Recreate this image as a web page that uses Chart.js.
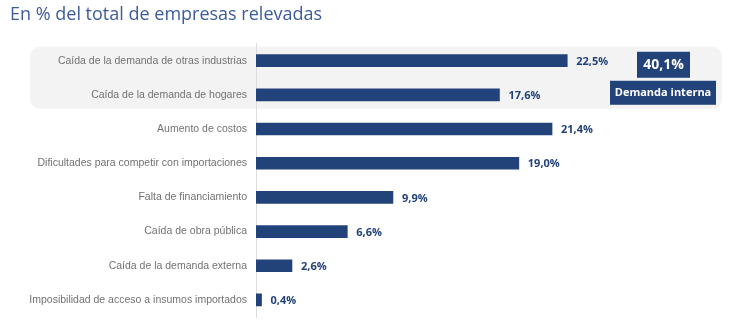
<!DOCTYPE html>
<html>
<head>
<meta charset="utf-8">
<script src="https://cdn.jsdelivr.net/npm/chart.js@4.4.0/dist/chart.umd.min.js"></script>
<style>
  html, body { margin: 0; padding: 0; background: #fff; }
  .chart-container { position: relative; width: 730px; height: 327px; }
</style>
</head>
<body>
<div class="chart-container">
  <canvas id="chart"></canvas>
</div>
<script>
const categories = [
  "Caída de la demanda de otras industrias",
  "Caída de la demanda de hogares",
  "Aumento de costos",
  "Dificultades para competir con importaciones",
  "Falta de financiamiento",
  "Caída de obra pública",
  "Caída de la demanda externa",
  "Imposibilidad de acceso a insumos importados"
];
const shares = [22.5, 17.6, 21.4, 19.0, 9.9, 6.6, 2.6, 0.4];
const groupTotal = "40,1%";
const groupLabel = "Demanda interna";

const navy = "#22427a";
const fmt = (v) => v.toFixed(1).replace(".", ",") + "%";

// grey rounded band behind the first two categories
const bandPlugin = {
  id: "band",
  beforeDraw(chart) {
    const { ctx, scales: { y } } = chart;
    const top = y.getPixelForValue(0) - 14;
    const bottom = y.getPixelForValue(1) + 14;
    ctx.save();
    ctx.fillStyle = "#f3f3f3";
    ctx.beginPath();
    ctx.roundRect(30, top, 692, bottom - top, 10);
    ctx.fill();
    ctx.restore();
  }
};

// value labels + "Demanda interna" boxes
const labelsPlugin = {
  id: "labels",
  afterDatasetsDraw(chart) {
    const { ctx, scales: { x, y } } = chart;
    ctx.save();
    ctx.font = "bold 11px 'Open Sans', sans-serif";
    ctx.fillStyle = navy;
    ctx.textBaseline = "middle";
    ctx.textAlign = "left";
    shares.forEach((v, i) => {
      ctx.fillText(fmt(v), x.getPixelForValue(v) + 9, y.getPixelForValue(i) + 1);
    });

    const mid = (y.getPixelForValue(0) + y.getPixelForValue(1)) / 2;
    ctx.textAlign = "center";
    ctx.fillStyle = navy;
    ctx.fillRect(637, mid - 26, 53, 26);
    ctx.fillRect(610, mid + 3, 106, 24);
    ctx.fillStyle = "#fff";
    ctx.font = "bold 14px 'Open Sans', sans-serif";
    ctx.fillText(groupTotal, 663.5, mid - 12.5);
    ctx.font = "bold 11px 'Open Sans', sans-serif";
    ctx.fillText(groupLabel, 663, mid + 15.5);
    ctx.restore();
  }
};

new Chart(document.getElementById("chart"), {
  type: "bar",
  data: {
    labels: categories,
    datasets: [{
      data: shares,
      backgroundColor: navy,
      barThickness: 12
    }]
  },
  options: {
    indexAxis: "y",
    responsive: true,
    maintainAspectRatio: false,
    animation: false,
    layout: { padding: { left: 10, right: 59, bottom: 10, top: 0 } },
    plugins: {
      legend: { display: false },
      tooltip: { enabled: false },
      title: {
        display: true,
        text: "En % del total de empresas relevadas",
        align: "start",
        color: "#3d5b9b",
        font: { family: "'Open Sans', sans-serif", size: 18, weight: "normal" },
        padding: { top: 4, bottom: 18 }
      }
    },
    scales: {
      x: { display: false, min: 0, max: 30 },
      y: {
        afterFit(scale) {
          scale.width = 246;
          scale.paddingTop = 0;
          scale.paddingBottom = 0;
        },
        grid: { display: false, drawTicks: false },
        border: { display: true, color: "#dddddd", width: 1 },
        ticks: {
          padding: 9,
          color: "#727272",
          font: { family: "'Liberation Sans', Arial, sans-serif", size: 10.5 }
        }
      }
    }
  },
  plugins: [bandPlugin, labelsPlugin]
});
</script>
</body>
</html>
